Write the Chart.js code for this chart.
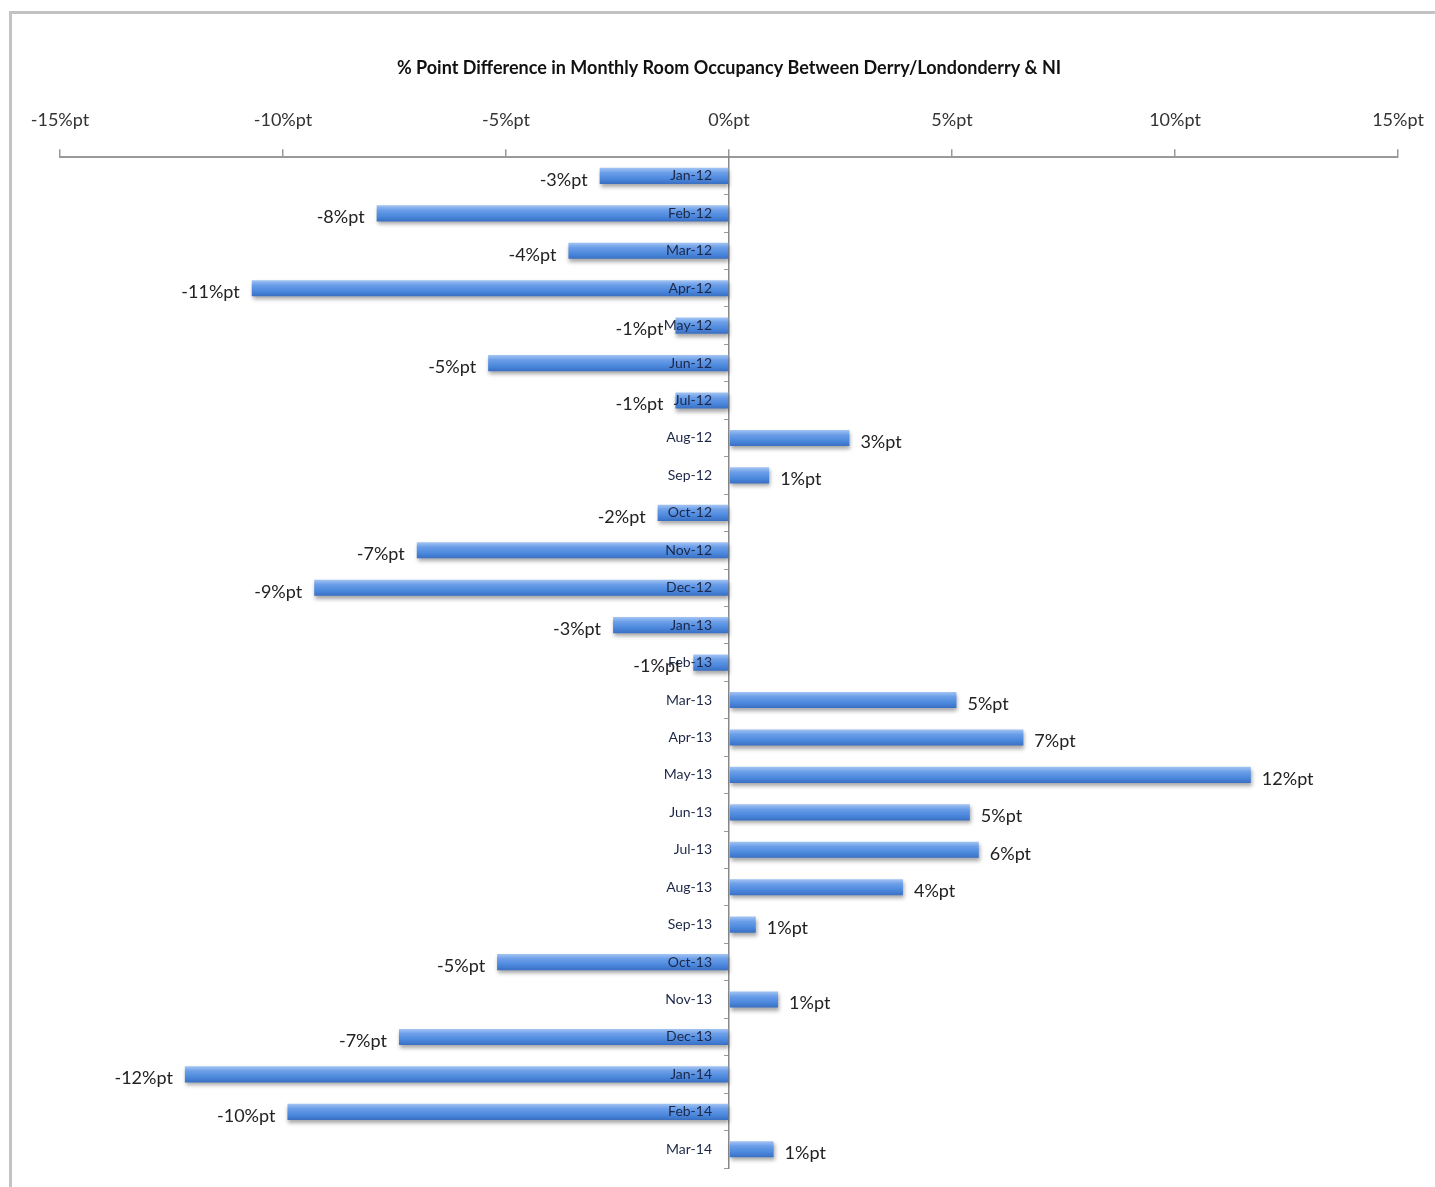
<!DOCTYPE html>
<html>
<head>
<meta charset="utf-8">
<script src="https://cdn.jsdelivr.net/npm/chart.js@4.4.1/dist/chart.umd.min.js"></script>
<style>
  html, body { margin: 0; padding: 0; background: #fff; overflow: hidden; }
  #wrap { position: relative; width: 1435px; height: 1187px; }
  #frame { position: absolute; left: 9px; top: 11px; width: 1500px; height: 1300px;
           border: 3px solid #c3c3c3; box-sizing: border-box; pointer-events: none; }
  canvas { position: absolute; left: 0; top: 0; }
</style>
</head>
<body>
<div id="wrap">
  <canvas id="occChart" width="1435" height="1187"></canvas>
  <div id="frame"></div>
</div>
<script>
// Months shown down the chart
const months = [
  'Jan-12', 'Feb-12', 'Mar-12', 'Apr-12', 'May-12', 'Jun-12', 'Jul-12', 'Aug-12', 'Sep-12',
  'Oct-12', 'Nov-12', 'Dec-12', 'Jan-13', 'Feb-13', 'Mar-13', 'Apr-13', 'May-13', 'Jun-13',
  'Jul-13', 'Aug-13', 'Sep-13', 'Oct-13', 'Nov-13', 'Dec-13', 'Jan-14', 'Feb-14', 'Mar-14'
];

// Derry/Londonderry minus NI occupancy, in percentage points
const pointDiff = [
  -2.9, -7.9, -3.6, -10.7, -1.2, -5.4, -1.2, 2.7, 0.9,
  -1.6, -7.0, -9.3, -2.6, -0.8, 5.1, 6.6, 11.7, 5.4,
  5.6, 3.9, 0.6, -5.2, 1.1, -7.4, -12.2, -9.9, 1.0
];

// Top axis ticks
const axisTicks = [-15, -10, -5, 0, 5, 10, 15];

const FONT = 'Lato, "Liberation Sans", Arial, sans-serif';
const BAR_PCT = 0.43;
// month names sit a little left of the zero line (in axis units)
const LABEL_GAP = -0.38;

function fmtPt(v) {
  return Math.round(v) + '%pt';
}

// vertical gradient per bar, built from the category scale
function barFill(context) {
  const chart = context.chart;
  const yScale = chart.scales.y;
  if (!yScale || context.dataIndex === undefined) return '#4f8ad9';
  const yc = yScale.getPixelForValue(context.dataIndex);
  const h = (yScale.height / months.length) * BAR_PCT;
  if (!Number.isFinite(yc) || !Number.isFinite(h) || h <= 0) return '#4f8ad9';
  const g = chart.ctx.createLinearGradient(0, yc - h / 2, 0, yc + h / 2);
  g.addColorStop(0, '#a3c4f3');
  g.addColorStop(0.3, '#6b9ee8');
  g.addColorStop(0.7, '#4a87dc');
  g.addColorStop(1, '#3a6fc3');
  return g;
}

// soft drop shadow under the bars
const barShadow = {
  id: 'barShadow',
  beforeDatasetsDraw(chart) {
    const ctx = chart.ctx;
    ctx.save();
    ctx.shadowColor = 'rgba(0, 0, 0, 0.35)';
    ctx.shadowBlur = 4;
    ctx.shadowOffsetX = 1;
    ctx.shadowOffsetY = 3;
  },
  afterDatasetsDraw(chart) {
    chart.ctx.restore();
  }
};

// value labels at the end of each bar
const endLabels = {
  id: 'endLabels',
  afterDatasetsDraw(chart) {
    const ctx = chart.ctx;
    const meta = chart.getDatasetMeta(0);
    ctx.save();
    ctx.font = '18px ' + FONT;
    ctx.fillStyle = '#222';
    ctx.textBaseline = 'middle';
    meta.data.forEach((bar, i) => {
      const v = pointDiff[i];
      if (v < 0) {
        ctx.textAlign = 'right';
        ctx.fillText(fmtPt(v), bar.x - 12, bar.y + 4);
      } else {
        ctx.textAlign = 'left';
        ctx.fillText(fmtPt(v), bar.x + 11, bar.y + 4);
      }
    });
    ctx.restore();
  }
};

new Chart(document.getElementById('occChart'), {
  type: 'bar',
  data: {
    labels: months,
    datasets: [{
      data: pointDiff,
      backgroundColor: barFill,
      borderWidth: 0,
      barPercentage: BAR_PCT,
      categoryPercentage: 1
    }]
  },
  options: {
    indexAxis: 'y',
    responsive: false,
    animation: false,
    layout: { padding: { left: 60, right: 37, top: 0, bottom: 19 } },
    plugins: {
      legend: { display: false },
      tooltip: { enabled: false },
      title: {
        display: true,
        fullSize: false,
        text: '% Point Difference in Monthly Room Occupancy Between Derry/Londonderry & NI',
        color: '#111',
        font: { family: FONT, size: 18, weight: 'bold' },
        padding: { top: 57, bottom: 13 }
      }
    },
    scales: {
      x: {
        position: 'top',
        min: -15,
        max: 15,
        afterBuildTicks(scale) {
          scale.ticks = axisTicks.map(v => ({ value: v }));
        },
        // end labels may hang into the side padding
        afterFit(scale) {
          scale.paddingLeft = 0;
          scale.paddingRight = 0;
        },
        ticks: {
          color: '#333',
          font: { family: FONT, size: 18 },
          padding: 18,
          callback: v => v + '%pt'
        },
        grid: {
          drawOnChartArea: false,
          drawTicks: true,
          tickLength: 8,
          color: '#999',
          lineWidth: 1.5
        },
        border: { display: true, color: '#999', width: 2 }
      },
      // zero line with small ticks between months
      y: {
        position: { x: 0 },
        ticks: { display: false },
        grid: {
          drawOnChartArea: false,
          tickLength: 4,
          color: '#999',
          lineWidth: 1
        },
        border: { display: true, color: '#888', width: 1.5 }
      },
      // month names, drawn over the bars
      yLabels: {
        type: 'category',
        axis: 'y',
        position: { x: LABEL_GAP },
        offset: true,
        ticks: {
          z: 1,
          color: '#1c2747',
          font: { family: FONT, size: 14 }
        },
        grid: { display: false },
        border: { display: false }
      }
    }
  },
  plugins: [barShadow, endLabels]
});
</script>
</body>
</html>
